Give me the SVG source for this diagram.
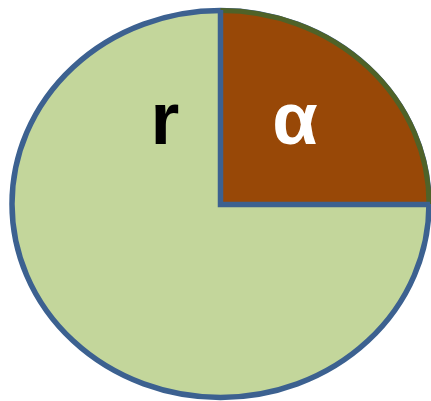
<svg xmlns="http://www.w3.org/2000/svg" width="431" height="401" viewBox="0 0 431 401">
<style>
.lbl{font-family:"Liberation Sans","Arial",sans-serif;font-weight:bold;font-size:74px;text-anchor:middle}
</style>
<rect width="431" height="401" fill="#ffffff"/>
<g id="circle">
<ellipse cx="220.5" cy="204" rx="208.5" ry="193.5" fill="#C3D69B" stroke="#3C6190" stroke-width="5.5"/>
</g>
<g id="sector">
<path d="M220.5,204 L220.5,10.5 A208.5,193.5 0 0 1 429,204 Z" fill="#984807"/>
<path d="M220.5,10.5 A208.5,193.5 0 0 1 429,204" fill="none" stroke="#4F6228" stroke-width="5"/>
</g>
<g id="connectors">
<path d="M220.5,10 L220.5,204.5 L430,204.5" fill="none" stroke="#3C6190" stroke-width="5.5"/>
</g>
<g id="label-r">
<text class="lbl" x="165" y="144" fill="#000000">r</text>
</g>
<g id="label-alpha">
<text class="lbl" x="295" y="144" fill="#ffffff">α</text>
</g>
</svg>
